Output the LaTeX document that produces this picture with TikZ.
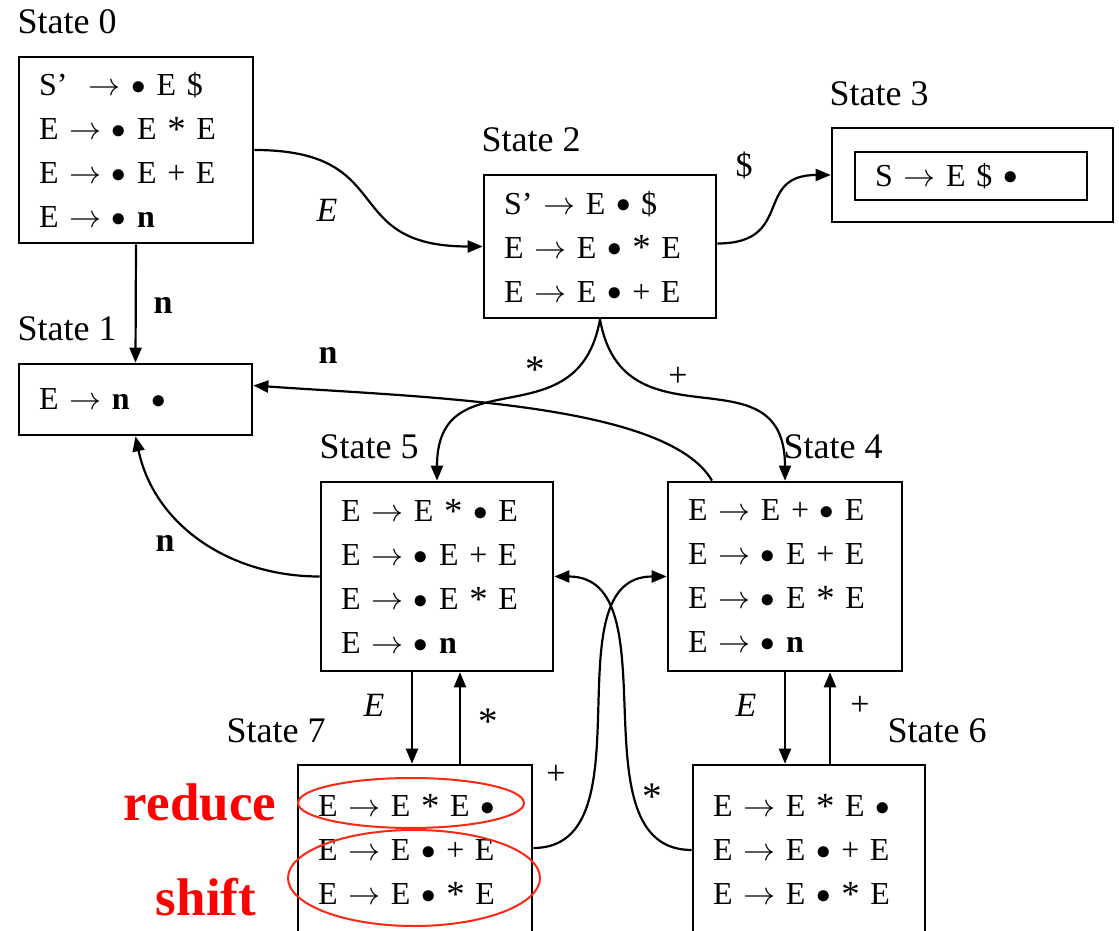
\RequirePackage{fix-cm}
\documentclass[tikz,border=0pt]{standalone}
\usepackage{graphicx}
\usepackage{fontspec}
\setmainfont{Liberation Serif}
\usetikzlibrary{arrows.meta}
\definecolor{ovalred}{RGB}{250,40,20}
\newcommand{\ar}{$\rightarrow$}
\newcommand{\dt}{\raisebox{1.5pt}{\fontsize{29}{29}\selectfont$\bullet$}}
\newcommand{\st}{\raisebox{-1.5pt}{\scalebox{1.15}{*}}}

\begin{document}
\begin{tikzpicture}[
  x=1pt, y=1pt,
  state/.style={
    draw,
    line width=2.6pt,
    align=left,
    inner xsep=20pt,
    inner ysep=0pt,
    font=\fontsize{32}{44}\selectfont
  },
  title/.style={font=\fontsize{36}{40}\selectfont, inner sep=0pt},
  sym/.style={font=\fontsize{34}{38}\selectfont, inner sep=0pt},
  note/.style={font=\fontsize{53}{56}\selectfont\bfseries, text=red, inner sep=0pt},
  arrow/.style={-{Triangle[length=15pt,width=12pt]}, line width=2.2pt}
]
\fill[white] (0,0) rectangle (1119,930);
\useasboundingbox (0,0) rectangle (1119,930);

\node[state, text width=194pt, minimum height=186pt] (s0) at (136,780)
  {S’~~\ar~\dt~E~\$\\E~\ar~\dt~E~\st~E\\E~\ar~\dt~E~+~E\\E~\ar~\dt~\textbf{n}};
\node[state, text width=193pt, minimum height=71pt] (s1) at (135.5,530.5)
  {E~\ar~\textbf{n}~~\dt};
\node[state, text width=192pt, minimum height=143pt] (s2) at (600,683.5)
  {S’~\ar~E~\dt~\$\\E~\ar~E~\dt~\st~E\\E~\ar~E~\dt~+~E};
\node[draw, line width=2.6pt, minimum width=281pt, minimum height=94pt] (s3) at (972.5,755) {};
\node[state, text width=192pt, minimum height=48pt] (s3in) at (971,754)
  {S~\ar~E~\$~\dt};
\node[state, text width=194pt, minimum height=189pt] (s4) at (785,353.5)
  {E~\ar~E~+~\dt~E\\E~\ar~\dt~E~+~E\\E~\ar~\dt~E~\st~E\\E~\ar~\dt~\textbf{n}};
\node[state, text width=192pt, minimum height=189pt] (s5) at (437,353.5)
  {E~\ar~E~\st~\dt~E\\E~\ar~\dt~E~+~E\\E~\ar~\dt~E~\st~E\\E~\ar~\dt~\textbf{n}};
\node[state, text width=192pt, minimum height=170pt] (s6) at (809,80)
  {E~\ar~E~\st~E~\dt\\E~\ar~E~\dt~+~E\\E~\ar~E~\dt~\st~E};
\node[state, text width=194pt, minimum height=170pt] (s7) at (415,80)
  {E~\ar~E~\st~E~\dt\\E~\ar~E~\dt~+~E\\E~\ar~E~\dt~\st~E};

\node[title] (l0) at (67,908) {State 0};
\node[title] (l1) at (67,601) {State 1};
\node[title] (l2) at (531,790) {State 2};
\node[title] (l3) at (879,836) {State 3};
\node[title] (l4) at (833,483) {State 4};
\node[title] (l5) at (369,483) {State 5};
\node[title] (l6) at (937,199) {State 6};
\node[title] (l7) at (276,199) {State 7};

\draw[arrow] (s0.east) to[out=0, in=180, looseness=1.5] (s2.west);
\draw[arrow] (s0.south) -- (s1.north);
\draw[arrow] ([yshift=3pt]s2.east) to[out=0, in=180, looseness=1.5] (s3.west);
\draw[arrow] (s2.south) to[out=-100, in=90, looseness=1.4] (s5.north);
\draw[arrow] (s2.south) to[out=-80, in=90, looseness=1.4] (s4.north);
\draw[arrow] ([xshift=-73pt]s4.north) to[out=120, in=-4, out distance=90pt, in distance=170pt] ([yshift=14pt]s1.east);
\draw[arrow] (s5.west) to[out=180, in=-78] (s1.south);
\draw[arrow] ([xshift=-25pt]s5.south) -- ([xshift=-25pt]s5.south |- s7.north);
\draw[arrow] ([xshift=23pt]s5.south |- s7.north) -- ([xshift=23pt]s5.south);
\draw[arrow] (s4.south) -- (s4.south |- s6.north);
\draw[arrow] ([xshift=45pt]s4.south |- s6.north) -- ([xshift=45pt]s4.south);
\draw[arrow] ([yshift=2pt]s7.east) to[out=0, in=180] (s4.west);
\draw[arrow] (s6.west) to[out=180, in=0] (s5.east);

\node[sym] (t02) at (327,720) {\textit{E}};
\node[sym] (t01) at (163,625) {\textbf{n}};
\node[sym] (t23) at (744,765) {\$};
\node[sym] (t25) at (535,560) {\st};
\node[sym] (t24) at (678,553) {+};
\node[sym] (t41) at (328,575) {\textbf{n}};
\node[sym] (t51) at (165,387) {\textbf{n}};
\node[sym] (t57) at (374,225) {\textit{E}};
\node[sym] (t75) at (488,208) {\st};
\node[sym] (t46) at (746,225) {\textit{E}};
\node[sym] (t64) at (860,224) {+};
\node[sym] (t74) at (556,155) {+};
\node[sym] (t65) at (652,133) {\st};

\draw[ovalred, line width=2pt] (411,127) ellipse [x radius=113, y radius=25];
\draw[ovalred, line width=2pt] (414,52) ellipse [x radius=126, y radius=48];
\node[note] (reduce) at (200,128) {reduce};
\node[note] (shift) at (206,33) {shift};
\end{tikzpicture}
\end{document}
